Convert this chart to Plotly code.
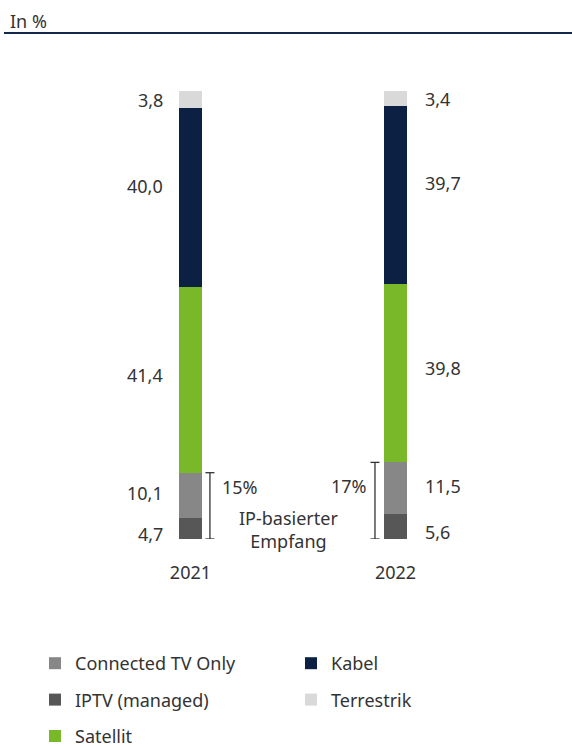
import plotly.graph_objects as go

# ---- data ----
years = ["2021", "2022"]
iptv = [4.7, 5.6]
connected = [10.1, 11.5]
satellit = [41.4, 39.8]
kabel = [40.0, 39.7]
terrestrik = [3.8, 3.4]

series_names = ["IPTV (managed)", "Connected TV Only", "Satellit", "Kabel", "Terrestrik"]
series_values = [iptv, connected, satellit, kabel, terrestrik]
series_colors = ["#575757", "#878787", "#79b829", "#0b2042", "#d9d9d9"]
legend_rank = [3, 1, 5, 2, 4]
legend_id = ["legend", "legend", "legend", "legend2", "legend2"]
label_shift = [-6, 2, 5, 12, 0]  # px offsets of value labels

TXT = "#333333"
FONT = "Noto Sans"
FS = 18

fig = go.Figure()
for name, vals, col, rank, lg in zip(series_names, series_values, series_colors, legend_rank, legend_id):
    fig.add_trace(go.Bar(
        x=years, y=vals, name=name, marker=dict(color=col, line=dict(width=0)),
        width=0.112, legendrank=rank, legend=lg, legendgroup=name,
        hoverinfo="skip",
    ))

def fmt(v):
    return f"{v:.1f}".replace(".", ",")

annotations = []
for i, yr in enumerate(years):
    base = 0.0
    for k, vals in enumerate(series_values):
        v = vals[i]
        mid = base + v / 2
        base += v
        if i == 0:
            annotations.append(dict(x=i, y=mid, xref="x", yref="y", text=fmt(v), showarrow=False,
                                    xanchor="right", xshift=-25, yshift=label_shift[k],
                                    font=dict(size=FS, color=TXT)))
        else:
            annotations.append(dict(x=i, y=mid, xref="x", yref="y", text=fmt(v), showarrow=False,
                                    xanchor="left", xshift=28, yshift=label_shift[k],
                                    font=dict(size=FS, color=TXT)))

# IP-based brackets
shapes = []
bracket_off = [0.095, -0.10]
cap = 0.022
for i, yr in enumerate(years):
    ip = iptv[i] + connected[i]
    bx = i + bracket_off[i]
    line = dict(color=TXT, width=1.3)
    shapes.append(dict(type="line", xref="x", yref="y", x0=bx, x1=bx, y0=0, y1=ip, line=line))
    shapes.append(dict(type="line", xref="x", yref="y", x0=bx - cap, x1=bx + cap, y0=0, y1=0, line=line))
    shapes.append(dict(type="line", xref="x", yref="y", x0=bx - cap, x1=bx + cap, y0=ip, y1=ip, line=line))
    pct = f"{round(ip):d}%"
    if i == 0:
        annotations.append(dict(x=bx, y=ip / 2, xref="x", yref="y", text=pct, showarrow=False,
                                xanchor="left", xshift=10, yshift=19, font=dict(size=FS, color=TXT)))
    else:
        annotations.append(dict(x=bx, y=ip / 2, xref="x", yref="y", text=pct, showarrow=False,
                                xanchor="right", xshift=-6, yshift=15, font=dict(size=FS, color=TXT)))

annotations.append(dict(x=0.48, y=0, xref="x", yref="y", text="IP-basierter<br>Empfang", showarrow=False,
                        xanchor="center", yanchor="middle", yshift=10, align="center",
                        font=dict(size=FS, color=TXT)))

# header rule
shapes.append(dict(type="line", xref="paper", yref="paper", x0=4 / 572, x1=1, y0=1.1295, y1=1.1295,
                   line=dict(color="#14284b", width=2)))

fig.update_layout(
    width=572, height=747,
    margin=dict(l=0, r=0, t=91, b=208, autoexpand=False),
    paper_bgcolor="white", plot_bgcolor="white",
    barmode="stack",
    font=dict(family=FONT, size=FS, color=TXT),
    title=dict(text="In %", x=10 / 572, xanchor="left", y=1 - 22 / 747, yanchor="middle",
               font=dict(size=FS, color=TXT)),
    xaxis=dict(type="category", range=[-0.929, 1.861], showgrid=False, zeroline=False,
               showline=False, ticks="", ticklabelstandoff=21, tickangle=0,
               tickfont=dict(size=FS, color=TXT)),
    yaxis=dict(range=[0, 100], visible=False),
    annotations=annotations,
    shapes=shapes,
    legend=dict(xref="container", yref="container", x=35 / 572, y=1 - 645 / 747,
                xanchor="left", yanchor="top", orientation="v", tracegroupgap=10,
                font=dict(size=FS, color=TXT), bgcolor="rgba(0,0,0,0)"),
    legend2=dict(xref="container", yref="container", x=291 / 572, y=1 - 645 / 747,
                 xanchor="left", yanchor="top", orientation="v", tracegroupgap=10,
                 font=dict(size=FS, color=TXT), bgcolor="rgba(0,0,0,0)"),
    showlegend=True,
)

fig.write_html("out.html", config={"displayModeBar": False},
               post_script="document.body.style.margin='0';document.body.style.padding='0';")
